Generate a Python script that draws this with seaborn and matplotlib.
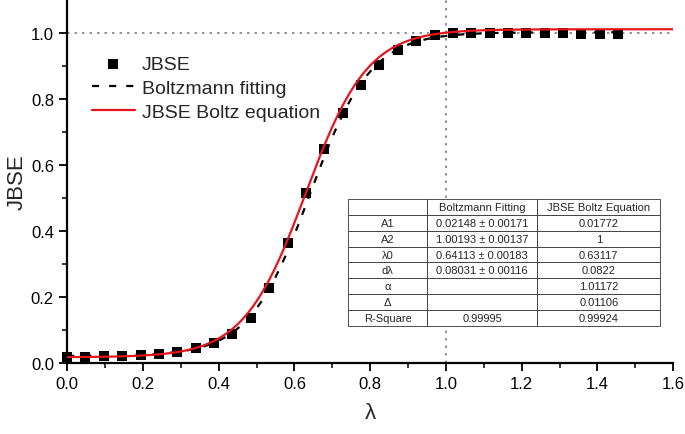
"""
JBSE vs lambda - Boltzmann fitting comparison
"""
import matplotlib
matplotlib.use('Agg')
import matplotlib.pyplot as plt
import seaborn as sns
import numpy as np
import pandas as pd

lam = [0.000, 0.0485, 0.097, 0.1455, 0.194, 0.2425, 0.291, 0.3395, 0.388, 0.4365,
       0.485, 0.5335, 0.582, 0.6305, 0.679, 0.7275, 0.776, 0.8245, 0.873, 0.9215,
       0.970, 1.0185, 1.067, 1.1155, 1.164, 1.2125, 1.261, 1.3095, 1.358, 1.4065, 1.455]
jbse = [0.018, 0.019, 0.020, 0.022, 0.025, 0.029, 0.035, 0.045, 0.062, 0.088,
        0.138, 0.226, 0.364, 0.514, 0.648, 0.758, 0.843, 0.904, 0.949, 0.976,
        0.994, 0.999, 1.000, 1.000, 1.000, 0.999, 0.999, 0.999, 0.998, 0.998, 0.998]

# Parametros da tabela
fit_params = [0.02148, 1.00193, 0.64113, 0.08031]          # A1, A2, lambda0, dlambda
eq_params = [0.01772, 1.0, 0.63117, 0.0822, 1.01172, 0.01106]  # A1, A2, l0, dl, alpha, Delta

row_labels = ['A1', 'A2', 'λ0', 'dλ', 'α', 'Δ', 'R-Square']
col_labels = ['', 'Boltzmann Fitting', 'JBSE Boltz Equation']
col_fit = ['0.02148 ± 0.00171', '1.00193 ± 0.00137', '0.64113 ± 0.00183',
           '0.08031 ± 0.00116', '', '', '0.99995']
col_eq = ['0.01772', '1', '0.63117', '0.0822', '1.01172', '0.01106', '0.99924']

# Curvas a partir dos parametros
x_fit = np.linspace(0, 1.46, 300)
A1, A2, x0, dx = fit_params
y_fit = A2 + (A1 - A2) / (1 + np.exp((x_fit - x0) / dx))

x_eq = np.linspace(0, 1.6, 300)
B1, B2, l0, dl, alpha, delta = eq_params
y_eq = (B2 + delta) + (B1 - B2 - delta) / (1 + np.exp((x_eq - l0) / dl)) ** alpha

sns.set_style("ticks")
plt.rcParams['font.family'] = ['Liberation Sans', 'DejaVu Sans']

fig = plt.figure(figsize=(6.85, 4.35), dpi=100)
ax = fig.add_axes([0.098, 0.163, 0.8847, 0.835])

# Linhas de referencia pontilhadas
ax.axhline(1.0, color='gray', linestyle=(0, (1.5, 3)), linewidth=1.2, zorder=1)
ax.axvline(1.0, color='gray', linestyle=(0, (1.5, 3)), linewidth=1.2, zorder=1)

sns.scatterplot(x=lam, y=jbse, marker='s', s=48, color='black', edgecolor='black',
                linewidth=0, clip_on=False, zorder=3, label='JBSE', ax=ax)
sns.lineplot(x=x_fit, y=y_fit, color='black', linestyle=(0, (3.2, 4.5)), linewidth=1.6,
             zorder=4, label='Boltzmann fitting', ax=ax)
sns.lineplot(x=x_eq, y=y_eq, color='#e8141c', linewidth=1.6, zorder=5,
             label='JBSE Boltz equation', ax=ax)

ax.set_xlim(0, 1.6)
ax.set_ylim(0, 1.1)
ax.set_xticks(np.arange(0, 1.61, 0.2))
ax.set_xticks(np.arange(0.1, 1.6, 0.2), minor=True)
ax.set_yticks(np.arange(0, 1.01, 0.2))
ax.set_yticks(np.arange(0.1, 1.1, 0.2), minor=True)
ax.xaxis.set_major_formatter(matplotlib.ticker.FormatStrFormatter('%.1f'))
ax.yaxis.set_major_formatter(matplotlib.ticker.FormatStrFormatter('%.1f'))
ax.tick_params(which='major', direction='out', length=6, width=1.3, labelsize=12, colors='black')
ax.tick_params(which='minor', direction='out', length=3.5, width=1.3)
for s in ['left', 'bottom']:
    ax.spines[s].set_linewidth(1.6)
    ax.spines[s].set_color('black')
sns.despine(ax=ax)

ax.set_xlabel('λ', fontsize=16, labelpad=8)
ax.set_ylabel('JBSE', fontsize=16, labelpad=2)

leg = ax.legend(loc='upper left', bbox_to_anchor=(0.041, 0.847), frameon=False,
                fontsize=14, handlelength=2.2, handletextpad=0.36, labelspacing=0.33,
                borderaxespad=0, borderpad=0)

# Tabela
cell_text = [[r, f, e] for r, f, e in zip(row_labels, col_fit, col_eq)]
tab = ax.table(cellText=[col_labels] + cell_text, cellLoc='center',
               colWidths=[0.253, 0.353, 0.394],
               bbox=[0.4637, 0.102, 0.515, 0.35], zorder=10)
tab.auto_set_font_size(False)
tab.set_fontsize(8)
for (r, c), cell in tab.get_celld().items():
    cell.set_edgecolor('#333333')
    cell.set_linewidth(0.6)
    cell.set_facecolor('white')

fig.savefig('out.png', dpi=100, facecolor='white')
